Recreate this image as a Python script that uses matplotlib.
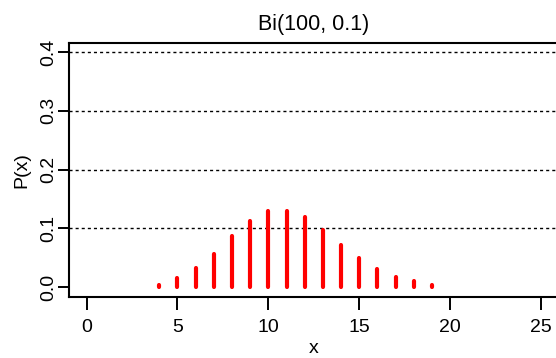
import matplotlib
matplotlib.use("Agg")
import matplotlib.pyplot as plt

plt.rcParams['font.family'] = ['Liberation Sans', 'DejaVu Sans']

# values
x = [4, 5, 6, 7, 8, 9, 10, 11, 12, 13, 14, 15, 16, 17, 18, 19]
px = [0.004, 0.016, 0.032, 0.057, 0.088, 0.113, 0.130, 0.130,
      0.119, 0.097, 0.072, 0.050, 0.031, 0.018, 0.010, 0.004]
xticks = [0, 5, 10, 15, 20, 25]
yticks = [0.0, 0.1, 0.2, 0.3, 0.4]
grid_y = [0.1, 0.2, 0.3, 0.4]

fig = plt.figure(figsize=(5.56, 3.58), dpi=100)
ax = fig.add_axes([68.5 / 556, 1 - 296.7 / 358, (559 - 68.5) / 556, (296.7 - 42.5) / 358])

for g in grid_y:
    ax.axhline(g, color='black', linewidth=1.0, dashes=(2.2, 2.2), zorder=1)

ax.vlines(x, 0, px, colors='red', linewidth=3, capstyle='round', zorder=3)

ax.set_xlim(-1, 26)
ax.set_ylim(-0.016, 0.416)
ax.set_xticks(xticks)
ax.set_yticks(yticks)
ax.set_yticklabels([f"{v:.1f}" for v in yticks], rotation=90, va='center')
ax.tick_params(direction='out', length=9, width=1.4, labelsize=14)
ax.tick_params(axis='x', pad=7)
ax.tick_params(axis='y', length=8, pad=0)
for s in ax.spines.values():
    s.set_linewidth(1.5)

ax.set_title("Bi(100, 0.1)", fontsize=15.5, pad=9)
ax.set_xlabel("x", fontsize=14, labelpad=3)
ax.set_ylabel("P(x)", fontsize=14, labelpad=7)

fig.savefig("out.png", dpi=100)
